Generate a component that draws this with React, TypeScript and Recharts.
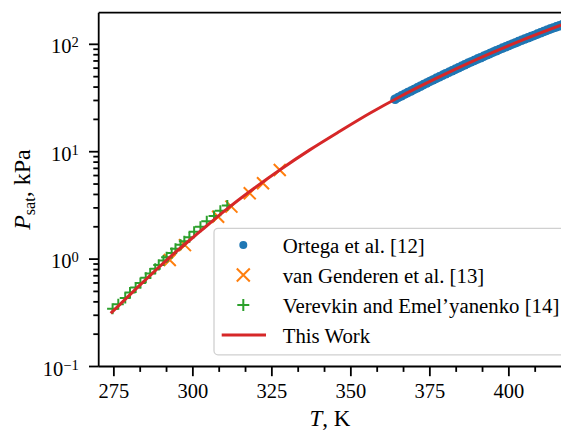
import { ComposedChart, Scatter, XAxis, YAxis, ReferenceLine } from "recharts";

// Ortega et al. [12]
const ortegaT = [364, 365, 366, 367, 368, 369, 370, 371, 372, 373, 374, 375, 376, 377, 378, 379, 380, 381, 382, 383, 384, 385, 386, 387, 388, 389, 390, 391, 392, 393, 394, 395, 396, 397, 398, 399, 400, 401, 402, 403, 404, 405, 406, 407, 408, 409, 410, 411, 412, 413, 414, 415, 416, 417, 418];
const ortegaP = [30.8, 32.0, 33.1, 34.3, 35.5, 36.7, 38.0, 39.3, 40.7, 42.1, 43.6, 45.1, 46.6, 48.2, 49.8, 51.5, 53.2, 54.9, 56.7, 58.5, 60.4, 62.3, 64.3, 66.4, 68.5, 70.6, 72.8, 75.0, 77.3, 79.6, 82.0, 84.5, 87.1, 89.6, 92.1, 94.8, 97.5, 100.3, 103, 106, 109, 112, 115, 118, 121, 124.5, 128, 131.5, 135, 138.5, 142, 145.5, 149, 153, 157];

// van Genderen et al. [13]
const genderenT = [292.7, 297.5, 308.0, 312.2, 318.0, 322.2, 327.5];
const genderenP = [0.98, 1.35, 2.48, 3.08, 4.1, 5.08, 6.76];

// Verevkin and Emel'yanenko [14]
const verevkinT = [274.6, 276.4, 278.6, 280.1, 281.9, 283.4, 285.1, 286.5, 288.1, 289.2, 290.7, 291.7, 293.3, 294.5, 296.1, 297.3, 298.9, 300.4, 302.4, 304.4, 306.7, 308.7, 310.9];
const verevkinP = [0.345, 0.38, 0.435, 0.49, 0.545, 0.6, 0.67, 0.735, 0.815, 0.88, 0.97, 1.04, 1.14, 1.25, 1.36, 1.47, 1.6, 1.8, 2.0, 2.25, 2.52, 2.82, 3.15];

// This Work
const modelT = [274.0, 281.1, 291.7, 302.2, 311.7, 319.5, 327.5, 337.0, 346.5, 356.0, 365.5, 376, 390, 404, 418];
const modelP = [0.313, 0.498, 0.98, 1.8, 3.08, 4.6, 6.77, 10.4, 15.5, 22.8, 32.5, 46.6, 72.8, 109, 157];

const xDomain = [270.2, 416.5];
const yDomain = [0.1, 197];
const xMajorTicks = [275, 300, 325, 350, 375, 400];
const xMinorTicks = [283.33, 291.67, 308.33, 316.67, 333.33, 341.67, 358.33, 366.67, 383.33, 391.67, 408.33];
const yMajorTicks = [0.1, 1, 10, 100];
const yMinorTicks = [0.2, 0.3, 0.4, 0.5, 0.6, 0.7, 0.8, 0.9, 2, 3, 4, 5, 6, 7, 8, 9, 20, 30, 40, 50, 60, 70, 80, 90];

const legendLabels = ["Ortega et al. [12]", "van Genderen et al. [13]", "Verevkin and Emel\u2019yanenko [14]", "This Work"];

const BLUE = "#1f77b4";
const ORANGE = "#ff7f0e";
const GREEN = "#2ca02c";
const RED = "#d62728";
const FONT = "Liberation Serif, DejaVu Serif, serif";

const zip = (ts: number[], ps: number[]) => ts.map((t, i) => ({ t, p: ps[i] }));

const ortegaData = zip(ortegaT, ortegaP);
const genderenData = zip(genderenT, genderenP);
const verevkinData = zip(verevkinT, verevkinP);
const modelData = zip(modelT, modelP);

// eslint-disable-next-line @typescript-eslint/no-explicit-any
function XTick({ x, y, payload }: any) {
  const major = xMajorTicks.includes(payload.value);
  return (
    <g>
      <line x1={x} x2={x} y1={y} y2={y + (major ? 9.7 : 5.4)} stroke="#000" strokeWidth={1.8} />
      {major && (
        <text x={x} y={y + 31} textAnchor="middle" fontSize={20.5} style={{ fontFamily: FONT }} fill="#000">
          {payload.value}
        </text>
      )}
    </g>
  );
}

// eslint-disable-next-line @typescript-eslint/no-explicit-any
function YTick({ x, y, payload }: any) {
  const v = payload.value;
  const major = yMajorTicks.includes(v);
  const exp = Math.round(Math.log10(v));
  return (
    <g>
      <line x1={x} x2={x - (major ? 9.7 : 5.4)} y1={y} y2={y} stroke="#000" strokeWidth={1.8} />
      {major && (
        <text x={x - 20} y={y + 9} textAnchor="end" fontSize={20.5} style={{ fontFamily: FONT }} fill="#000">
          10
          <tspan dy={-6} fontSize={14.5}>
            {exp < 0 ? `\u2212${-exp}` : exp}
          </tspan>
        </text>
      )}
    </g>
  );
}

// eslint-disable-next-line @typescript-eslint/no-explicit-any
const Dot = ({ cx, cy }: any) => <circle cx={cx} cy={cy} r={4.8} fill={BLUE} />;
// eslint-disable-next-line @typescript-eslint/no-explicit-any
const Cross = ({ cx, cy }: any) => (
  <path d={`M${cx - 6},${cy - 6}L${cx + 6},${cy + 6}M${cx - 6},${cy + 6}L${cx + 6},${cy - 6}`} stroke={ORANGE} strokeWidth={2} />
);
// eslint-disable-next-line @typescript-eslint/no-explicit-any
const Plus = ({ cx, cy }: any) => (
  <path d={`M${cx - 5.5},${cy}L${cx + 5.5},${cy}M${cx},${cy - 5.5}L${cx},${cy + 5.5}`} stroke={GREEN} strokeWidth={2} />
);
const NoMark = () => <g />;

function LegendBox() {
  const left = 214;
  const top = 228.3;
  const rows = [245, 275, 305, 335];
  const mx = 243.3;
  return (
    <svg width={561} height={432} style={{ position: "absolute", left: 0, top: 0, pointerEvents: "none" }}>
      <rect x={left} y={top} width={360} height={126.5} rx={4} fill="rgba(255,255,255,0.8)" stroke="#d0d0d0" strokeWidth={1.3} />
      <circle cx={mx} cy={rows[0]} r={4} fill={BLUE} />
      <path d={`M${mx - 6.5},${rows[1] - 6.5}L${mx + 6.5},${rows[1] + 6.5}M${mx - 6.5},${rows[1] + 6.5}L${mx + 6.5},${rows[1] - 6.5}`} stroke={ORANGE} strokeWidth={2} />
      <path d={`M${mx - 6},${rows[2]}L${mx + 6},${rows[2]}M${mx},${rows[2] - 6}L${mx},${rows[2] + 6}`} stroke={GREEN} strokeWidth={2} />
      <line x1={221.7} x2={266} y1={rows[3]} y2={rows[3]} stroke={RED} strokeWidth={3} />
      {legendLabels.map((label, i) => (
        <text key={label} x={282.7} y={rows[i] + 8} fontSize={20.8} style={{ fontFamily: FONT }} fill="#000">
          {label}
        </text>
      ))}
    </svg>
  );
}

export default function App() {
  return (
    <div style={{ position: "absolute", left: 0, top: 0, width: 561, height: 432, overflow: "hidden", background: "#fff" }}>
      <ComposedChart width={561} height={432} margin={{ top: 12.7, right: 0, bottom: 0, left: 0 }}>
        <XAxis
          type="number"
          dataKey="t"
          domain={xDomain}
          allowDataOverflow
          ticks={[...xMajorTicks, ...xMinorTicks]}
          interval={0}
          height={65.5}
          tickSize={0}
          tickMargin={0}
          tickLine={false}
          tick={<XTick />}
          axisLine={{ stroke: "#000", strokeWidth: 1.8 }}
          label={{
            content: () => (
              <text x={329.9} y={426} textAnchor="middle" fontSize={23} style={{ fontFamily: FONT }} fill="#000">
                <tspan fontStyle="italic">T</tspan>, K
              </text>
            ),
          }}
        />
        <YAxis
          type="number"
          dataKey="p"
          scale="log"
          domain={yDomain}
          allowDataOverflow
          ticks={[...yMajorTicks, ...yMinorTicks]}
          interval={0}
          width={98.7}
          tickSize={0}
          tickMargin={0}
          tickLine={false}
          tick={<YTick />}
          axisLine={{ stroke: "#000", strokeWidth: 1.8 }}
          label={{
            content: () => (
              <text transform="translate(30,189.6) rotate(-90)" textAnchor="middle" fontSize={24} style={{ fontFamily: FONT }} fill="#000">
                <tspan fontStyle="italic">P</tspan>
                <tspan dy={5} fontSize={16}>sat</tspan>
                <tspan dy={-5}>, kPa</tspan>
              </text>
            ),
          }}
        />
        <ReferenceLine y={yDomain[1]} stroke="#000" strokeWidth={1.8} />
        <Scatter data={ortegaData} dataKey="p" shape={<Dot />} isAnimationActive={false} />
        <Scatter data={genderenData} dataKey="p" shape={<Cross />} isAnimationActive={false} />
        <Scatter data={verevkinData} dataKey="p" shape={<Plus />} isAnimationActive={false} />
        <Scatter
          data={modelData}
          dataKey="p"
          shape={<NoMark />}
          line={{ stroke: RED, strokeWidth: 3, fill: "none" }}
          lineJointType="monotoneX"
          isAnimationActive={false}
        />
      </ComposedChart>
      <LegendBox />
    </div>
  );
}
